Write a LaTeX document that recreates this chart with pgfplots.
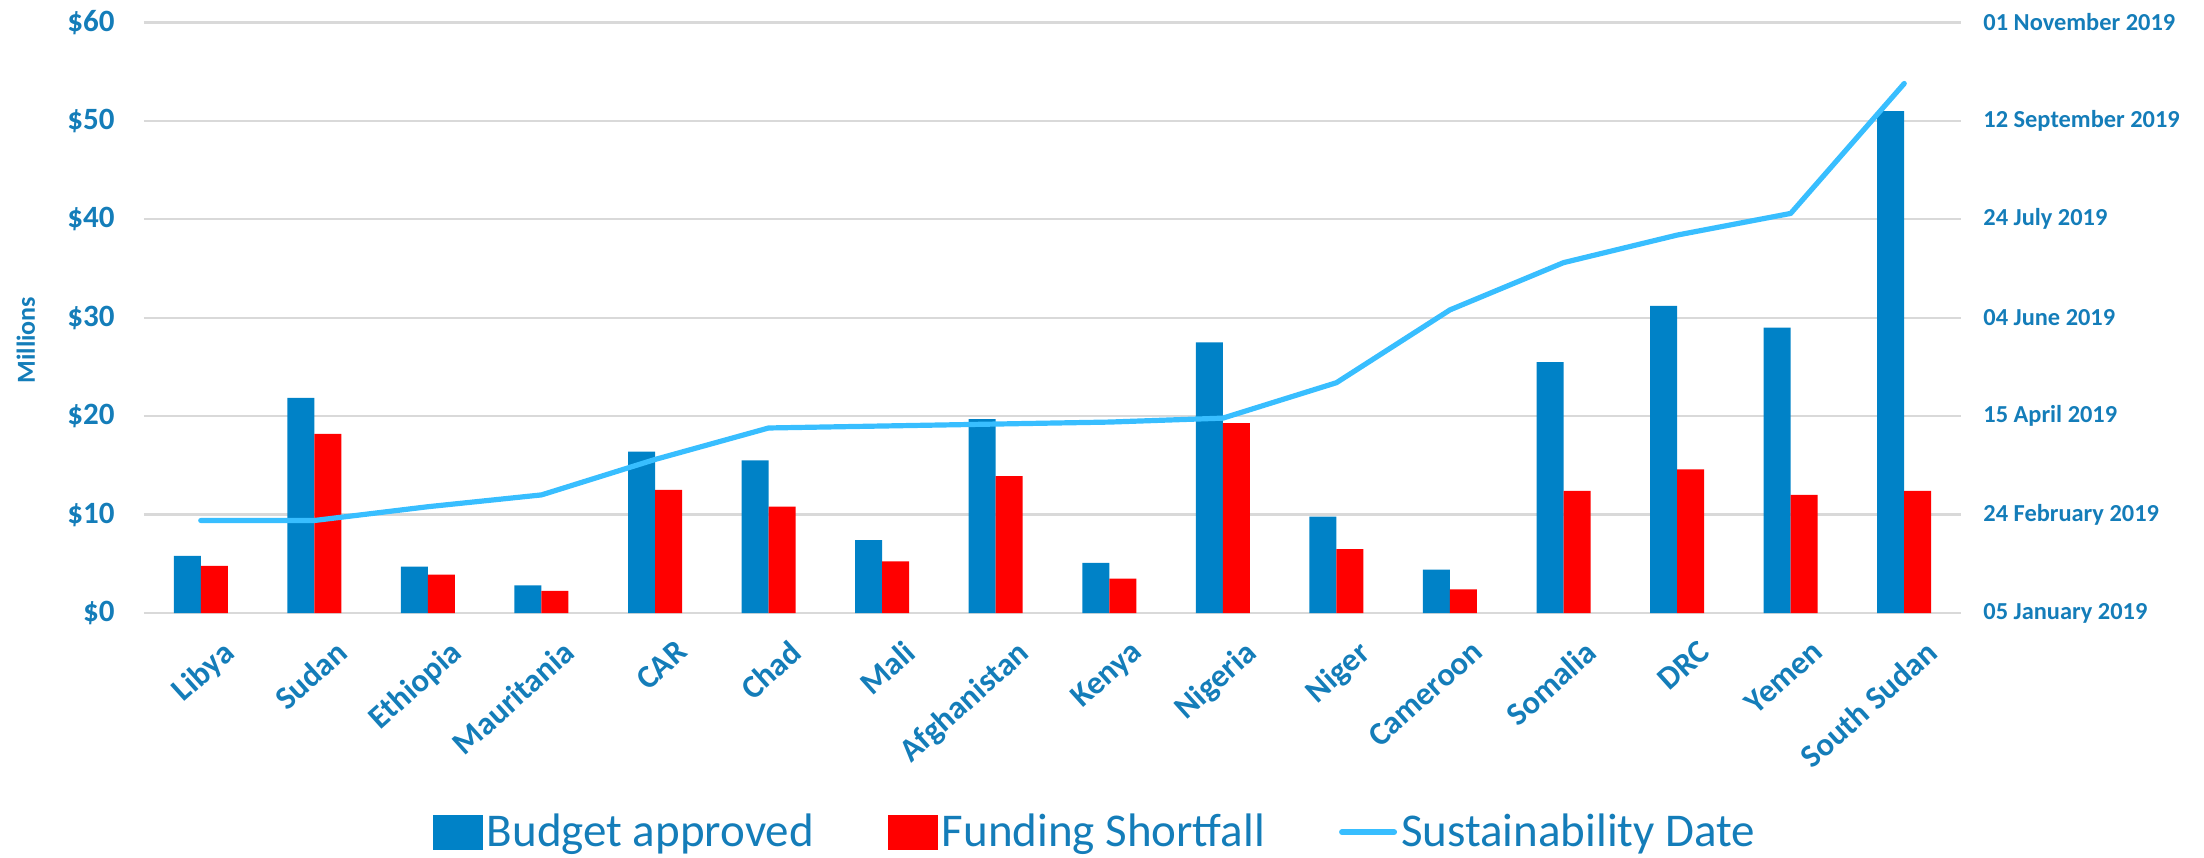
\documentclass[border=0pt]{standalone}
\usepackage{pgfplots}
\pgfplotsset{compat=1.18}
\usepackage{fontspec}
\setmainfont{Carlito}
\definecolor{barblue}{RGB}{0,130,199}
\definecolor{barred}{RGB}{255,0,0}
\definecolor{linecol}{RGB}{56,190,255}
\definecolor{txtblue}{RGB}{20,125,185}
\definecolor{gridgray}{RGB}{217,217,217}

\pgfplotstableread{
idx blue red days
0 5.8 4.8 47
1 21.85 18.2 47
2 4.7 3.9 54
3 2.8 2.25 60
4 16.4 12.5 78
5 15.5 10.8 94
6 7.4 5.25 95
7 19.7 13.9 96
8 5.1 3.5 97
9 27.5 19.3 99
10 9.8 6.5 117
11 4.4 2.4 154
12 25.5 12.4 178
13 31.2 14.6 192
14 29.0 12.0 203
15 51.0 12.4 269
}\datatable

\begin{document}
\begin{tikzpicture}
\useasboundingbox (-72pt,-122pt) rectangle (1030pt,306.5pt);
\begin{axis}[
  scale only axis,
  width=908.5pt, height=295.25pt,
  at={(0,0)}, anchor=south west,
  xmin=-0.5, xmax=15.5,
  ymin=0, ymax=60,
  ybar=0pt, bar width=13.5pt,
  xtick={0,...,15},
  xticklabels={Libya,Sudan,Ethiopia,Mauritania,CAR,Chad,Mali,Afghanistan,Kenya,Nigeria,Niger,Cameroon,Somalia,DRC,Yemen,South Sudan},
  xticklabel style={rotate=42, anchor=north east, inner sep=0pt, font=\fontsize{16.3}{19}\selectfont\bfseries, text=txtblue, xshift=-1pt, yshift=-16pt},
  ytick={0,10,...,60},
  yticklabels={\$0,\$10,\$20,\$30,\$40,\$50,\$60},
  yticklabel style={font=\fontsize{15.5}{18}\selectfont\bfseries, text=txtblue, anchor=east, inner sep=0pt, xshift=-14.5pt},
  ymajorgrids,
  major grid style={color=gridgray, line width=1.1pt},
  axis line style={draw=none},
  major tick length=0pt,
  ylabel={Millions},
  ylabel style={at={(axis description cs:-0.065,0.462)}, anchor=center, font=\fontsize{13}{15}\selectfont\bfseries, text=txtblue},
]
\addplot[fill=barblue, draw=none] table[x=idx, y=blue] {\datatable};
\addplot[fill=barred, draw=none] table[x=idx, y=red] {\datatable};
\end{axis}
\begin{axis}[
  scale only axis,
  width=908.5pt, height=295.25pt,
  at={(0,0)}, anchor=south west,
  xmin=-0.5, xmax=15.5,
  ymin=0, ymax=300,
  axis x line=none,
  axis y line*=right,
  axis line style={draw=none},
  major tick length=0pt,
  xtick=\empty,
  ytick={0,50,...,300},
  yticklabels={05 January 2019,24 February 2019,15 April 2019,04 June 2019,24 July 2019,12 September 2019,01 November 2019},
  yticklabel style={font=\fontsize{12.2}{15}\selectfont\bfseries, text=txtblue, anchor=west, inner sep=0pt, xshift=11pt},
  clip=false,
  legend columns=3,
  legend style={at={(axis description cs:0.524,-0.371)}, anchor=center, draw=none, fill=none,
    font=\fontsize{23.5}{28}\selectfont, text=txtblue,
    /tikz/every even column/.append style={column sep=35pt},
    inner sep=0pt},
  legend cell align=left,
]
\addlegendimage{legend image code/.code={\fill[barblue] (0pt,-8.5pt) rectangle (24.5pt,8.5pt);}}
\addlegendentry{Budget approved}
\addlegendimage{legend image code/.code={\fill[barred] (0pt,-8.5pt) rectangle (24.5pt,8.5pt);}}
\addlegendentry{Funding Shortfall}
\addlegendimage{legend image code/.code={\draw[linecol, line width=3pt, line cap=round] (0pt,0pt) -- (26pt,0pt);}}
\addlegendentry{Sustainability Date}
\addplot[linecol, line width=2.6pt, line join=round, line cap=round, mark=none, forget plot] table[x=idx, y=days] {\datatable};
\end{axis}
\end{tikzpicture}
\end{document}
